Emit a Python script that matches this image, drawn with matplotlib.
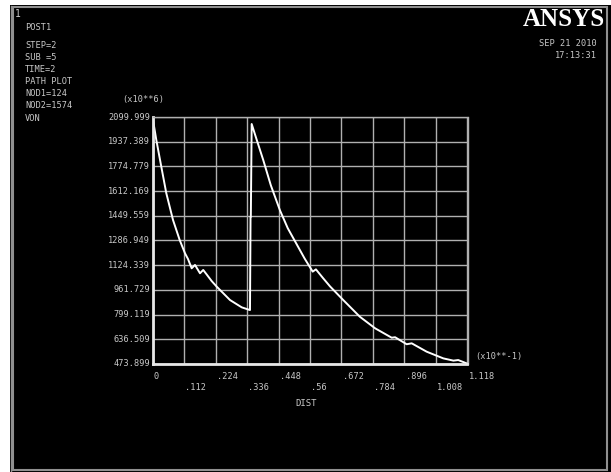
import matplotlib
matplotlib.use("Agg")
import matplotlib.pyplot as plt
from matplotlib.patches import Rectangle
from matplotlib.transforms import blended_transform_factory

# path data: von Mises stress along path (DIST in x10**-1, VON in x10**6)
dist = [0.0, 0.0018, 0.0135, 0.0312, 0.049, 0.0728, 0.0965, 0.1153, 0.126,
        0.139, 0.1508, 0.1686, 0.180, 0.192, 0.210, 0.228, 0.2751, 0.3166,
        0.346, 0.348, 0.349, 0.352, 0.370, 0.393, 0.420, 0.4525, 0.480,
        0.5118, 0.540, 0.5686, 0.580, 0.605, 0.630, 0.677, 0.736, 0.790,
        0.849, 0.861, 0.902, 0.920, 0.973, 1.032, 1.068, 1.085, 1.115]
von = [2095, 2080, 1949, 1773, 1598, 1422, 1290, 1203, 1165,
       1104, 1126, 1071, 1093, 1064, 1020, 983, 895, 847,
       829, 1444, 1444, 2054, 1949, 1817, 1650, 1485, 1368,
       1262, 1168, 1082, 1097, 1040, 985, 895, 785, 709,
       647, 650, 604, 610, 555, 511, 496, 500, 478]

yticks = [2099.999, 1937.389, 1774.779, 1612.169, 1449.559, 1286.949,
          1124.339, 961.729, 799.119, 636.509, 473.899]
xticks = [0, 0.1118, 0.2236, 0.3354, 0.4472, 0.559, 0.6708, 0.7826,
          0.8944, 1.0062, 1.118]
xlabels = ['0', '.112', '.224', '.336', '.448', '.56', '.672', '.784',
           '.896', '1.008', '1.118']
ylabels = ['%.3f' % v for v in yticks]

info = ['POST1', '', 'STEP=2', 'SUB =5', 'TIME=2', 'PATH PLOT',
        'NOD1=124', 'NOD2=1574', 'VON']

W, H = 611, 472
fig = plt.figure(figsize=(W / 100, H / 100), dpi=100, facecolor='white')
mono = 'DejaVu Sans Mono'
tc = '#c8c8c8'

# black screen with grey frame
bg = fig.add_axes([0, 0, 1, 1])
bg.set_xlim(0, W)
bg.set_ylim(H, 0)
bg.axis('off')
bg.add_patch(Rectangle((9.5, 5), W - 9.5, H - 5, facecolor='black', edgecolor='none'))
bg.add_patch(Rectangle((13, 6.5), 594, 463.5, facecolor='none', edgecolor='#909090', lw=1.5))
bg.plot([10.5, 10.5], [6, H], color='#909090', lw=1)

# header text
bg.text(15, 14, '1', color=tc, fontsize=7, family=mono, va='center')
for i, s in enumerate(info):
    y0 = 27 if i == 0 else 45 + (i - 2) * 12.2
    if s:
        bg.text(25, y0, s, color=tc, fontsize=6.2, family=mono, va='center')
bg.text(605, 20, 'ANSYS', color='white', fontsize=18, family='Liberation Serif',
        weight='bold', ha='right', va='center')
bg.text(597, 43, 'SEP 21 2010', color=tc, fontsize=6.2, family=mono, ha='right', va='center')
bg.text(597, 55, '17:13:31', color=tc, fontsize=6.2, family=mono, ha='right', va='center')

# plot area
ax = fig.add_axes([152.5 / W, (H - 364) / H, 315 / W, 247 / H])
ax.set_facecolor('black')
ax.set_xlim(xticks[0], xticks[-1])
ax.set_ylim(yticks[-1], yticks[0])
ax.set_xticks(xticks)
ax.set_yticks(yticks)
ax.tick_params(length=0, labelbottom=False, labelleft=False)
ax.grid(True, color='#b0b0b0', lw=1)
for side in ['top', 'right']:
    ax.spines[side].set_color('#b0b0b0')
    ax.spines[side].set_linewidth(1)
for side in ['left', 'bottom']:
    ax.spines[side].set_color('#e8e8e8')
    ax.spines[side].set_linewidth(2)

ax.plot(dist, von, color='white', lw=1.4)

tx = blended_transform_factory(ax.transData, ax.transAxes)
for i, (v, s) in enumerate(zip(xticks, xlabels)):
    ax.text(v + 0.004, -0.05 if i % 2 == 0 else -0.095, s, transform=tx, color=tc,
            fontsize=6.2, family=mono, ha='left', va='center')
ty = blended_transform_factory(ax.transAxes, ax.transData)
for v, s in zip(yticks, ylabels):
    ax.text(-0.008, v, s, transform=ty, color=tc, fontsize=6.2, family=mono,
            ha='right', va='center')

ax.text(-0.095, 1.07, '(x10**6)', transform=ax.transAxes, color=tc, fontsize=6.2,
        family=mono, ha='left', va='center')
ax.text(1.025, 0.03, '(x10**-1)', transform=ax.transAxes, color=tc, fontsize=6.2,
        family=mono, ha='left', va='center')
ax.text(0.455, -0.16, 'DIST', transform=ax.transAxes, color=tc, fontsize=6.5,
        family=mono, ha='left', va='center')

fig.savefig('out.png', dpi=100, facecolor='white')
